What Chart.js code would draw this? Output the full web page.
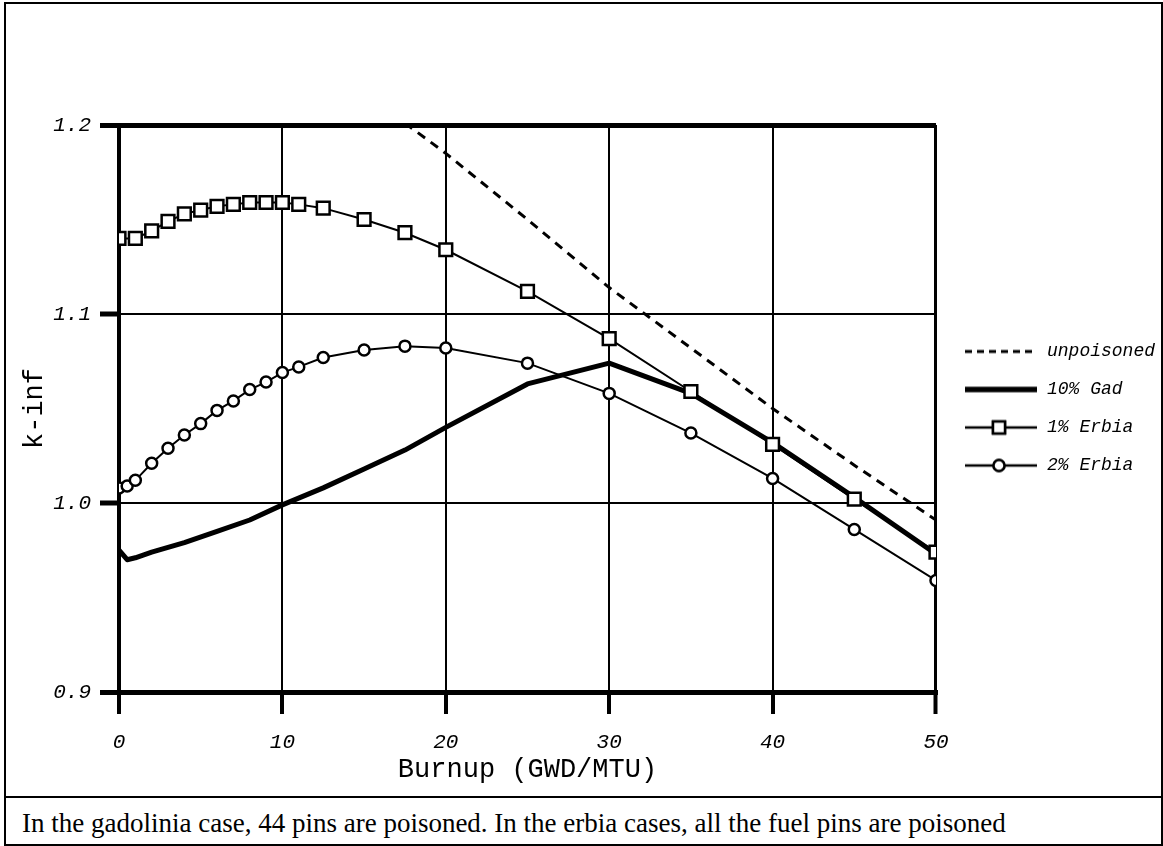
<!DOCTYPE html>
<html>
<head>
<meta charset="utf-8">
<title>k-inf vs burnup</title>
<script src="https://cdn.jsdelivr.net/npm/chart.js@4/dist/chart.umd.min.js"></script>
<style>
  html, body { margin: 0; padding: 0; background: #fff; }
  #page { position: relative; width: 1163px; height: 846px; background: #fff; overflow: hidden; }
  #frame { position: absolute; left: 4px; top: 2px; width: 1155px; height: 840px; border: 2px solid #000; }
  #rule { position: absolute; left: 4px; top: 796px; width: 1159px; height: 2px; background: #000; }
  #plot { position: absolute; left: 0; top: 0; width: 1163px; height: 797px; }
  #caption { position: absolute; left: 22px; top: 808px; font: 27px "Liberation Serif", "Times New Roman", serif; color: #000; white-space: nowrap; }
</style>
</head>
<body>
<div id="page">
  <div id="frame"></div>
  <div id="rule"></div>
  <div id="plot"><canvas id="chart" width="1163" height="797"></canvas></div>
  <div id="caption">In the gadolinia case, 44 pins are poisoned. In the erbia cases, all the fuel pins are poisoned</div>
</div>
<script>
// Burnup (GWD/MTU) and k-inf for each fuel case
const burnupFree = [17.5, 20, 25, 30, 35, 40, 45, 50];
const kinfFree   = [1.201, 1.185, 1.150, 1.114, 1.082, 1.050, 1.020, 0.991];

const burnupGad = [0, 0.5, 1, 2, 4, 6, 8, 10, 12.5, 15, 17.5, 20, 25, 30, 35, 40, 45, 50];
const kinfGad   = [0.975, 0.970, 0.971, 0.974, 0.979, 0.985, 0.991, 0.999, 1.008, 1.018, 1.028, 1.040, 1.063, 1.074, 1.058, 1.032, 1.003, 0.973];

const burnupErbia1 = [0, 1, 2, 3, 4, 5, 6, 7, 8, 9, 10, 11, 12.5, 15, 17.5, 20, 25, 30, 35, 40, 45, 50];
const kinfErbia1   = [1.140, 1.140, 1.144, 1.149, 1.153, 1.155, 1.157, 1.158, 1.159, 1.159, 1.159, 1.158, 1.156, 1.150, 1.143, 1.134, 1.112, 1.087, 1.059, 1.031, 1.002, 0.974];

const burnupErbia2 = [0, 0.5, 1, 2, 3, 4, 5, 6, 7, 8, 9, 10, 11, 12.5, 15, 17.5, 20, 25, 30, 35, 40, 45, 50];
const kinfErbia2   = [1.008, 1.009, 1.012, 1.021, 1.029, 1.036, 1.042, 1.049, 1.054, 1.060, 1.064, 1.069, 1.072, 1.077, 1.081, 1.083, 1.082, 1.074, 1.058, 1.037, 1.013, 0.986, 0.959];

const seriesNames = ['unpoisoned', '10% Gad', '1% Erbia', '2% Erbia'];

// Axis ranges and tick spacing
const xTicks = [0, 10, 20, 30, 40, 50];
const yTicks = [0.9, 1.0, 1.1, 1.2];

const pairs = (xs, ys) => xs.map((x, i) => ({ x: x, y: ys[i] }));
const near = (a, b) => Math.abs(a - b) < 1e-6;

const monoItalic = { family: '"Liberation Mono", "DejaVu Sans Mono", monospace', style: 'italic' };
const mono = { family: '"Liberation Mono", "DejaVu Sans Mono", monospace' };

// Legend samples: a short stroke with the series marker in the middle
function legendSample(kind) {
  const c = document.createElement('canvas');
  c.width = 82; c.height = 20;
  const g = c.getContext('2d');
  const x0 = 9, x1 = 81, y = 10;
  g.strokeStyle = '#000';
  g.lineCap = 'butt';
  g.beginPath();
  if (kind === 'dash') {
    g.setLineDash([7, 5]);
    g.lineWidth = 3;
  } else if (kind === 'thick') {
    g.lineWidth = 5.5;
  } else {
    g.lineWidth = 2.5;
  }
  g.moveTo(x0, y); g.lineTo(x1, y); g.stroke();
  g.setLineDash([]);
  if (kind === 'rect' || kind === 'circle') {
    g.fillStyle = '#fff';
    g.lineWidth = 2.5;
    Chart.helpers.drawPoint(g, { pointStyle: kind, radius: kind === 'rect' ? 8.5 : 5.5, rotation: 0, borderWidth: 2.5 }, 43, y);
    g.fill();
    g.stroke();
  }
  return c;
}
const samples = [legendSample('dash'), legendSample('thick'), legendSample('rect'), legendSample('circle')];

const datasets = [
  { label: seriesNames[0], data: pairs(burnupFree, kinfFree), borderColor: '#000', borderWidth: 3,
    borderDash: [9, 7], pointRadius: 0, order: 0 },
  { label: seriesNames[1], data: pairs(burnupGad, kinfGad), borderColor: '#000', borderWidth: 5,
    pointRadius: 0, order: 3, borderJoinStyle: 'round', borderCapStyle: 'round' },
  { label: seriesNames[2], data: pairs(burnupErbia1, kinfErbia1), borderColor: '#000', borderWidth: 2,
    pointStyle: 'rect', pointRadius: 9, pointBorderWidth: 2.5, pointBackgroundColor: '#fff', pointBorderColor: '#000', order: 1 },
  { label: seriesNames[3], data: pairs(burnupErbia2, kinfErbia2), borderColor: '#000', borderWidth: 2,
    pointStyle: 'circle', pointRadius: 5.5, pointBorderWidth: 2.5, pointBackgroundColor: '#fff', pointBorderColor: '#000', order: 2 }
];

new Chart(document.getElementById('chart'), {
  type: 'line',
  data: { datasets: datasets },
  options: {
    responsive: false,
    animation: false,
    events: [],
    layout: { padding: { left: 8, top: 125, right: -2, bottom: 0 } },
    elements: { line: { tension: 0, fill: false } },
    plugins: {
      tooltip: { enabled: false },
      legend: {
        display: true,
        position: 'right',
        align: 'center',
        fullSize: false,
        labels: {
          usePointStyle: true,
          pointStyleWidth: 82,
          padding: 20,
          color: '#000',
          font: Object.assign({ size: 18 }, monoItalic),
          generateLabels: (chart) => chart.data.datasets.map((ds, i) => ({
            text: ds.label,
            pointStyle: samples[i],
            fillStyle: '#fff',
            strokeStyle: '#000',
            lineWidth: 0,
            fontColor: '#000',
            hidden: false,
            datasetIndex: i
          }))
        }
      }
    },
    scales: {
      x: {
        type: 'linear',
        min: xTicks[0],
        max: xTicks[xTicks.length - 1],
        afterBuildTicks: (s) => { s.ticks = xTicks.map(v => ({ value: v })); },
        afterFit: (s) => { s.height = 105; },
        ticks: { color: '#000', padding: 16, maxRotation: 0, autoSkip: false,
                 font: Object.assign({ size: 21 }, monoItalic), callback: (v) => String(v) },
        grid: {
          color: '#000',
          lineWidth: (c) => near(c.tick.value, 0) ? 4 : (near(c.tick.value, 50) ? 3 : 2),
          drawTicks: true,
          tickLength: 22,
          tickWidth: 4,
          tickColor: '#000'
        },
        border: { display: true, color: '#000', width: 5 },
        title: { display: true, text: 'Burnup (GWD/MTU)', color: '#000',
                 font: Object.assign({ size: 27 }, mono), padding: { top: 0, bottom: 11 } }
      },
      y: {
        type: 'linear',
        min: yTicks[0],
        max: yTicks[yTicks.length - 1],
        afterBuildTicks: (s) => { s.ticks = yTicks.map(v => ({ value: v })); },
        afterFit: (s) => { s.width = 111; },
        ticks: { color: '#000', padding: 9, autoSkip: false,
                 font: Object.assign({ size: 21 }, monoItalic), callback: (v) => Number(v).toFixed(1) },
        grid: {
          color: '#000',
          lineWidth: (c) => (near(c.tick.value, 0.9) || near(c.tick.value, 1.2)) ? 5 : 2,
          drawTicks: true,
          tickLength: 19,
          tickWidth: 5,
          tickColor: '#000'
        },
        border: { display: true, color: '#000', width: 4 },
        title: { display: true, text: 'k-inf', color: '#000',
                 font: Object.assign({ size: 27 }, mono), padding: { top: 11, bottom: 0 } }
      }
    }
  }
});
</script>
</body>
</html>
